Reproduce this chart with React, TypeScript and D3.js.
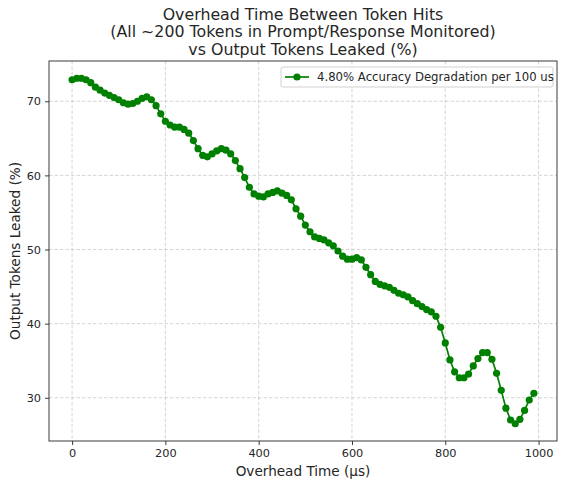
import React, { useEffect, useRef } from "react";
import * as d3 from "d3";

// overhead time in µs, one sample every 10 µs
const overheadTimes: number[] = d3.range(0, 1000, 10);

// output tokens leaked (%)
const leakedPct: number[] = [
  72.9, 73.1, 73.1, 72.9, 72.5, 71.9, 71.5, 71.1, 70.8, 70.5,
  70.2, 69.8, 69.6, 69.7, 70.0, 70.4, 70.6, 70.2, 69.4, 68.3,
  67.3, 66.8, 66.5, 66.5, 66.2, 65.7, 64.7, 63.6, 62.7, 62.5,
  62.9, 63.3, 63.6, 63.4, 62.9, 62.0, 60.9, 59.7, 58.4, 57.5,
  57.2, 57.1, 57.5, 57.7, 57.9, 57.6, 57.3, 56.7, 55.5, 54.5,
  53.3, 52.4, 51.7, 51.5, 51.3, 50.9, 50.5, 49.8, 49.1, 48.7,
  48.7, 48.9, 48.6, 47.6, 46.6, 45.7, 45.3, 45.1, 44.9, 44.5,
  44.1, 43.9, 43.6, 43.1, 42.7, 42.3, 41.9, 41.6, 41.0, 39.5,
  37.4, 35.1, 33.5, 32.7, 32.7, 33.2, 34.3, 35.3, 36.1, 36.1,
  35.2, 33.3, 31.0, 28.6, 27.0, 26.5, 27.1, 28.3, 29.7, 30.6,
];

const xTicks: number[] = [0, 200, 400, 600, 800, 1000];
const yTicks: number[] = [30, 40, 50, 60, 70];

const titleLines: string[] = [
  "Overhead Time Between Token Hits",
  "(All ~200 Tokens in Prompt/Response Monitored)",
  "vs Output Tokens Leaked (%)",
];
const legendLabel = "4.80% Accuracy Degradation per 100 us";

const width = 565;
const height = 486;
const margin = { top: 61, right: 8, bottom: 45, left: 49 };
const font = "'DejaVu Sans', sans-serif";
const green = "#008000";
const ink = "#262626";

const App = () => {
  const ref = useRef<SVGSVGElement>(null);

  useEffect(() => {
    const svg = d3.select(ref.current);
    svg.selectAll("*").remove();

    const data = overheadTimes.map((t, i) => ({ t, v: leakedPct[i] }));
    const innerW = width - margin.left - margin.right;
    const innerH = height - margin.top - margin.bottom;

    // matplotlib style 5% margins
    const xExt = d3.extent(overheadTimes) as [number, number];
    const yExt = d3.extent(leakedPct) as [number, number];
    const xPad = (xExt[1] - xExt[0]) * 0.05;
    const yPad = (yExt[1] - yExt[0]) * 0.05;

    const x = d3
      .scaleLinear()
      .domain([xExt[0] - xPad, xExt[1] + xPad])
      .range([margin.left, margin.left + innerW]);
    const y = d3
      .scaleLinear()
      .domain([yExt[0] - yPad, yExt[1] + yPad])
      .range([margin.top + innerH, margin.top]);

    // grid
    const grid = svg.append("g");
    grid
      .selectAll(".gx")
      .data(xTicks)
      .enter()
      .append("line")
      .attr("x1", (d) => x(d))
      .attr("x2", (d) => x(d))
      .attr("y1", margin.top)
      .attr("y2", margin.top + innerH);
    grid
      .selectAll(".gy")
      .data(yTicks)
      .enter()
      .append("line")
      .attr("x1", margin.left)
      .attr("x2", margin.left + innerW)
      .attr("y1", (d) => y(d))
      .attr("y2", (d) => y(d));
    grid
      .selectAll("line")
      .attr("stroke", "#b0b0b0")
      .attr("stroke-opacity", 0.6)
      .attr("stroke-width", 0.9)
      .attr("stroke-dasharray", "3.5,2");

    // series
    const line = d3
      .line<{ t: number; v: number }>()
      .x((d) => x(d.t))
      .y((d) => y(d.v));
    svg
      .append("path")
      .datum(data)
      .attr("d", line)
      .attr("fill", "none")
      .attr("stroke", green)
      .attr("stroke-width", 1.7);
    svg
      .append("g")
      .selectAll("circle")
      .data(data)
      .enter()
      .append("circle")
      .attr("cx", (d) => x(d.t))
      .attr("cy", (d) => y(d.v))
      .attr("r", 3.6)
      .attr("fill", green);

    // axes
    const xAxis = d3
      .axisBottom(x)
      .tickValues(xTicks)
      .tickSize(4)
      .tickPadding(4)
      .tickFormat(d3.format("d"));
    const yAxis = d3
      .axisLeft(y)
      .tickValues(yTicks)
      .tickSize(4)
      .tickPadding(4)
      .tickFormat(d3.format("d"));
    const gx = svg
      .append("g")
      .attr("transform", `translate(0,${margin.top + innerH})`)
      .call(xAxis);
    const gy = svg
      .append("g")
      .attr("transform", `translate(${margin.left},0)`)
      .call(yAxis);
    [gx, gy].forEach((g) => {
      g.select(".domain").remove();
      g.selectAll("text")
        .attr("font-family", font)
        .attr("font-size", 11.3)
        .attr("fill", ink);
      g.selectAll("line").attr("stroke", ink).attr("stroke-width", 0.9);
    });

    // frame
    svg
      .append("rect")
      .attr("x", margin.left)
      .attr("y", margin.top)
      .attr("width", innerW)
      .attr("height", innerH)
      .attr("fill", "none")
      .attr("stroke", ink)
      .attr("stroke-width", 0.9);

    // labels
    const cx = margin.left + innerW / 2;
    svg
      .append("text")
      .attr("x", cx)
      .attr("y", 476)
      .attr("text-anchor", "middle")
      .attr("font-family", font)
      .attr("font-size", 13.6)
      .attr("fill", ink)
      .text("Overhead Time (µs)");
    svg
      .append("text")
      .attr("transform", `translate(20,${margin.top + innerH / 2}) rotate(-90)`)
      .attr("text-anchor", "middle")
      .attr("font-family", font)
      .attr("font-size", 13.6)
      .attr("fill", ink)
      .text("Output Tokens Leaked (%)");

    svg
      .append("g")
      .selectAll("text")
      .data(titleLines)
      .enter()
      .append("text")
      .attr("x", cx)
      .attr("y", (d, i) => 19.5 + i * 17.5)
      .attr("text-anchor", "middle")
      .attr("font-family", font)
      .attr("font-size", 15.8)
      .attr("fill", ink)
      .text((d) => d);

    // legend
    const lg = svg.append("g").attr("transform", "translate(281,67)");
    lg.append("rect")
      .attr("width", 272)
      .attr("height", 20)
      .attr("rx", 2)
      .attr("fill", "white")
      .attr("fill-opacity", 0.8)
      .attr("stroke", "#cccccc")
      .attr("stroke-width", 0.9);
    lg.append("line")
      .attr("x1", 4)
      .attr("x2", 28)
      .attr("y1", 10)
      .attr("y2", 10)
      .attr("stroke", green)
      .attr("stroke-width", 1.7);
    lg.append("circle").attr("cx", 16).attr("cy", 10).attr("r", 3.6).attr("fill", green);
    lg.append("text")
      .attr("x", 36)
      .attr("y", 14.2)
      .attr("font-family", font)
      .attr("font-size", 11.7)
      .attr("fill", ink)
      .text(legendLabel);
  }, []);

  return (
    <svg
      ref={ref}
      width={width}
      height={height}
      style={{ position: "absolute", left: 0, top: 0, background: "white" }}
    />
  );
};

export default App;
